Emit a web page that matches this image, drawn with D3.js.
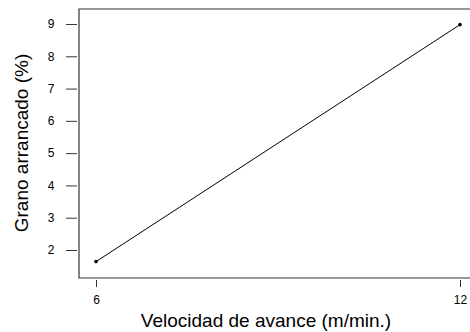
<!DOCTYPE html>
<html>
<head>
<meta charset="utf-8">
<script src="https://cdn.jsdelivr.net/npm/d3@7"></script>
<style>
  body { margin: 0; background: #fff; }
  text { font-family: "Liberation Sans", Arial, sans-serif; fill: #000; }
</style>
</head>
<body>
<script>
var velocidad = [6, 12];
var grano = [1.64, 8.98];
var xTicks = [6, 12];
var yTicks = [2, 3, 4, 5, 6, 7, 8, 9];

var W = 470, H = 332;
var svg = d3.select("body").append("svg").attr("width", W).attr("height", H);

// plot frame
var boxL = 79, boxT = 9, boxB = 278, boxR = 485;

var x = d3.scaleLinear().domain([6, 12]).range([96, 460]);
var y = d3.scaleLinear().domain([2, 9]).range([250, 24]);

// box (right side falls outside the window)
svg.append("path")
  .attr("d", "M" + boxR + "," + boxT + "H" + boxL + "V" + boxB + "H" + boxR)
  .attr("fill", "none").attr("stroke", "#333").attr("stroke-width", 1.2);

// y axis, detached from box
var gy = svg.append("g").attr("transform", "translate(" + (boxL - 2) + ",0)")
  .call(d3.axisLeft(y).tickValues(yTicks).tickSize(11).tickPadding(15).tickFormat(d3.format("d")));
gy.select(".domain").remove();
gy.selectAll("line").attr("stroke", "#333");
gy.selectAll("text").attr("font-size", 12).attr("text-anchor", "middle");

// x axis
var gx = svg.append("g").attr("transform", "translate(0," + (boxB + 2) + ")")
  .call(d3.axisBottom(x).tickValues(xTicks).tickSize(7).tickPadding(8).tickFormat(d3.format("d")));
gx.select(".domain").remove();
gx.selectAll("line").attr("stroke", "#333");
gx.selectAll("text").attr("font-size", 12);

var pts = velocidad.map(function(v, i){ return [v, grano[i]]; });

svg.append("path")
  .datum(pts)
  .attr("fill", "none").attr("stroke", "#000").attr("stroke-width", 1)
  .attr("d", d3.line().x(d => x(d[0])).y(d => y(d[1])));

svg.selectAll("circle.pt").data(pts).join("circle")
  .attr("class", "pt")
  .attr("cx", d => x(d[0])).attr("cy", d => y(d[1])).attr("r", 1.8)
  .attr("fill", "#000");

svg.append("text")
  .attr("x", 266).attr("y", 327)
  .attr("text-anchor", "middle").attr("font-size", 19)
  .text("Velocidad de avance (m/min.)");

svg.append("text")
  .attr("transform", "translate(28,143) rotate(-90)")
  .attr("text-anchor", "middle").attr("font-size", 19)
  .text("Grano arrancado (%)");
</script>
</body>
</html>
